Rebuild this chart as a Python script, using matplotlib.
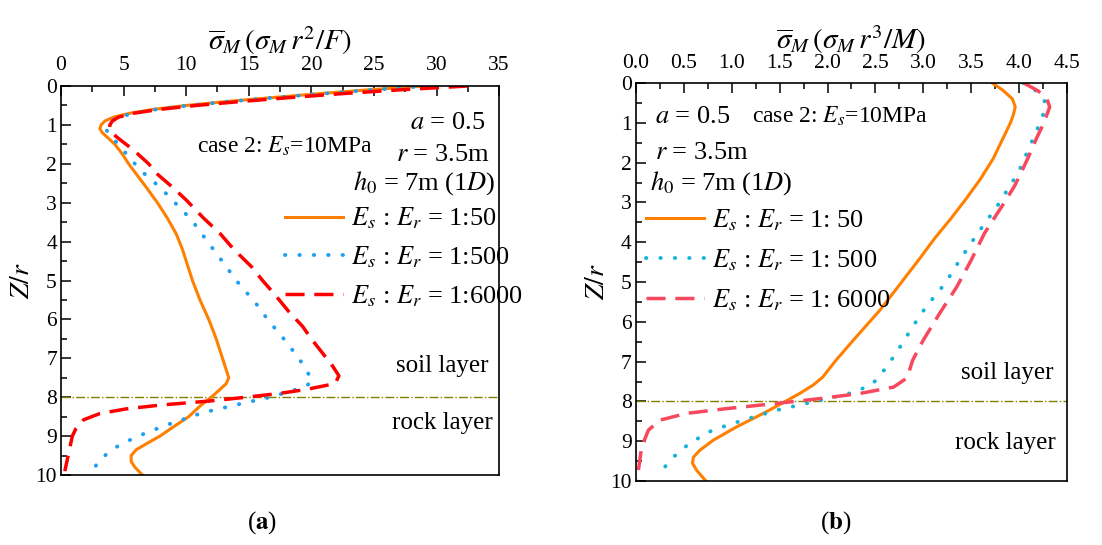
import matplotlib
matplotlib.use("Agg")
import matplotlib.pyplot as plt
from matplotlib.ticker import MultipleLocator

plt.rcParams['font.family'] = ['Liberation Serif', 'DejaVu Serif']
plt.rcParams['mathtext.fontset'] = 'stix'

# ---- panel (a): sigma_M r^2 / F ----
z_a_50 = [0.0, 0.1, 0.2, 0.3, 0.4, 0.5, 0.6, 0.7, 0.8, 0.9, 1.0, 1.1, 1.2, 1.35, 1.5,
          1.75, 2.0, 2.3, 2.6, 3.0, 3.4, 3.8, 4.2, 4.6, 5.0, 5.5, 6.0, 6.5, 7.0, 7.3,
          7.5, 7.65, 7.8, 8.0, 8.2, 8.5, 8.8, 9.0, 9.2, 9.35, 9.5, 9.65, 9.8, 10.0]
s_a_50 = [28.9, 24.5, 20.5, 16.8, 13.2, 10.0, 7.4, 5.5, 4.2, 3.5, 3.2, 3.1, 3.3, 3.8, 4.3,
          4.9, 5.4, 6.1, 6.8, 7.7, 8.5, 9.2, 9.7, 10.1, 10.5, 11.1, 11.8, 12.4, 12.9, 13.2,
          13.4, 13.2, 12.7, 12.0, 11.2, 10.2, 8.8, 7.9, 6.8, 6.0, 5.6, 5.6, 5.9, 6.5]

z_a_500 = [0.0, 0.1, 0.2, 0.3, 0.4, 0.5, 0.6, 0.7, 0.8, 0.9, 1.0, 1.1, 1.25, 1.5, 1.9,
           2.3, 2.6, 3.0, 3.3, 3.6, 4.0, 4.6, 5.0, 5.6, 6.0, 6.5, 7.0, 7.3, 7.6, 7.7,
           7.8, 8.0, 8.15, 8.4, 8.65, 8.9, 9.1, 9.3, 9.5, 9.65, 9.8]
s_a_500 = [29.3, 24.8, 20.8, 17.0, 13.4, 10.2, 7.6, 5.8, 4.6, 4.0, 3.7, 3.6, 3.8, 4.6, 5.6,
           6.8, 7.9, 9.1, 10.0, 10.8, 11.7, 13.1, 14.0, 15.6, 16.5, 17.8, 19.0, 19.6, 20.1, 19.6,
           18.8, 16.7, 14.6, 11.3, 9.0, 6.9, 5.5, 4.3, 3.5, 3.0, 2.7]

z_a_6000 = [0.0, 0.1, 0.2, 0.3, 0.4, 0.5, 0.6, 0.7, 0.8, 0.9, 1.0, 1.13, 1.3, 1.65, 2.0,
            2.24, 2.6, 2.93, 3.4, 3.79, 4.2, 4.64, 5.0, 5.33, 5.8, 6.18, 6.5, 6.87, 7.2, 7.45,
            7.65, 7.8, 7.9, 8.0, 8.1, 8.2, 8.3, 8.42, 8.58, 8.8, 9.0, 9.3, 9.6, 9.9]
s_a_6000 = [32.5, 27.0, 22.3, 18.2, 14.3, 10.8, 7.9, 5.8, 4.6, 4.1, 3.9, 3.9, 4.4, 5.8, 7.0,
            7.6, 8.9, 10.0, 11.4, 12.7, 13.8, 15.2, 16.1, 17.0, 18.2, 19.3, 20.0, 20.9, 21.7, 22.2,
            21.9, 19.6, 17.5, 14.8, 11.8, 8.0, 5.2, 3.1, 1.8, 1.2, 0.9, 0.7, 0.5, 0.3]

# ---- panel (b): sigma_M r^3 / M ----
z_b_50 = [0.0, 0.18, 0.4, 0.6, 0.8, 1.0, 1.4, 1.9, 2.4, 2.9, 3.4, 3.9, 4.45, 4.95, 5.7,
          6.46, 6.96, 7.39, 7.59, 7.8, 8.0, 8.3, 8.64, 8.97, 9.22, 9.4, 9.55, 9.72, 10.0]
s_b_50 = [3.72, 3.83, 3.93, 3.96, 3.94, 3.91, 3.83, 3.73, 3.60, 3.45, 3.29, 3.12, 2.95, 2.79, 2.55,
          2.27, 2.09, 1.95, 1.85, 1.71, 1.56, 1.33, 1.05, 0.81, 0.67, 0.60, 0.59, 0.63, 0.73]

z_b_500 = [0.0, 0.2, 0.4, 0.6, 0.8, 1.0, 1.43, 1.93, 2.26, 2.6, 3.1, 3.77, 4.45, 5.03, 5.62,
           6.12, 6.62, 7.13, 7.59, 7.8, 8.01, 8.22, 8.47, 8.72, 9.05, 9.4, 9.65, 9.9]
s_b_500 = [4.04, 4.18, 4.26, 4.28, 4.25, 4.22, 4.14, 4.05, 3.99, 3.90, 3.77, 3.57, 3.38, 3.23, 3.03,
           2.89, 2.76, 2.62, 2.46, 2.23, 1.85, 1.47, 1.12, 0.80, 0.56, 0.39, 0.30, 0.23]

z_b_6000 = [0.0, 0.2, 0.4, 0.6, 0.8, 1.0, 1.4, 1.9, 2.26, 2.6, 3.1, 3.77, 4.45, 5.12, 5.79,
            6.46, 6.96, 7.41, 7.64, 7.8, 7.93, 8.06, 8.18, 8.3, 8.47, 8.72, 9.14, 9.65, 10.0]
s_b_6000 = [4.05, 4.20, 4.29, 4.32, 4.29, 4.26, 4.18, 4.09, 4.02, 3.95, 3.82, 3.64, 3.50, 3.35, 3.17,
            3.00, 2.89, 2.83, 2.69, 2.34, 1.92, 1.43, 0.95, 0.53, 0.25, 0.13, 0.06, 0.03, 0.01]

ratios_a = ['1:50', '1:500', '1:6000']
ratios_b = ['1: 50', '1: 500', '1: 6000']
layer_z = 8

fig = plt.figure(figsize=(11.02, 5.45), dpi=100)
ax1 = fig.add_axes([0.0554, 0.1284, 0.3975, 0.7138])
ax2 = fig.add_axes([0.5771, 0.1174, 0.3911, 0.7303])


def style_axes(ax, xmax, xmajor, xlabel, fmt, xpad):
    ax.set_xlim(0, xmax)
    ax.set_ylim(10, 0)
    ax.xaxis.set_major_locator(MultipleLocator(xmajor))
    ax.xaxis.set_minor_locator(MultipleLocator(xmajor / 2))
    ax.yaxis.set_major_locator(MultipleLocator(1))
    ax.yaxis.set_minor_locator(MultipleLocator(0.5))
    ax.xaxis.set_major_formatter(plt.FuncFormatter(lambda v, p: fmt.format(v)))
    ax.tick_params(which='both', direction='in', top=True, bottom=False,
                   labeltop=True, labelbottom=False, right=False, width=1.1)
    ax.tick_params(which='major', length=7, labelsize=15.5)
    ax.tick_params(axis='x', which='major', pad=xpad)
    ax.tick_params(axis='y', which='major', pad=3)
    ax.tick_params(which='minor', length=4)
    ax.xaxis.set_label_position('top')
    ax.set_xlabel(xlabel, fontsize=21, labelpad=4)
    ax.set_ylabel(r'$Z/r$', fontsize=20, labelpad=0)
    for sp in ax.spines.values():
        sp.set_linewidth(1.2)
    ax.axhline(layer_z, color='#808000', lw=1.0, ls='-.')


style_axes(ax1, 35, 5, r'$\overline{\sigma}_M\,(\sigma_M\, r^2/F)$', '{:.0f}', 8)
style_axes(ax2, 4.5, 0.5, r'$\overline{\sigma}_M\,(\sigma_M\, r^3/M)$', '{:.1f}', 7)

dot = (0, (0.1, 3.6))
dash = (0, (5.5, 2.8))

ax1.plot(s_a_50, z_a_50, color='#FF8000', lw=2.2, label=r'$E_s$ : $E_r$ = ' + ratios_a[0])
ax1.plot(s_a_500, z_a_500, color='#1E9FF2', lw=2.8, ls=dot, dash_capstyle='round',
         label=r'$E_s$ : $E_r$ = ' + ratios_a[1])
ax1.plot(s_a_6000, z_a_6000, color='#FF0000', lw=2.5, ls=dash,
         label=r'$E_s$ : $E_r$ = ' + ratios_a[2])

ax2.plot(s_b_50, z_b_50, color='#FF8000', lw=2.2, label=r'$E_s$ : $E_r$ = ' + ratios_b[0])
ax2.plot(s_b_500, z_b_500, color='#14B4D8', lw=2.8, ls=dot, dash_capstyle='round',
         label=r'$E_s$ : $E_r$ = ' + ratios_b[1])
ax2.plot(s_b_6000, z_b_6000, color='#F8485E', lw=2.5, ls=dash,
         label=r'$E_s$ : $E_r$ = ' + ratios_b[2])

for ax, anchor, spacing in ((ax1, (0.511, 0.692), 0.5), (ax2, (0.023, 0.688), 0.55)):
    ax.legend(loc='upper left', bbox_to_anchor=anchor, frameon=False, fontsize=19,
              handlelength=2.2, handletextpad=0.3, labelspacing=spacing,
              borderaxespad=0, borderpad=0)

# annotations, panel (a)
ax1.text(0.968, 0.905, r'$a$ = 0.5', transform=ax1.transAxes, ha='right', va='center', fontsize=19)
ax1.text(0.977, 0.823, r'$r$ = 3.5m', transform=ax1.transAxes, ha='right', va='center', fontsize=19)
ax1.text(0.993, 0.751, r'$h_0$ = 7m (1$D$)', transform=ax1.transAxes, ha='right', va='center', fontsize=19)
ax1.text(0.311, 0.846, r'case 2: $E_s$=10MPa', transform=ax1.transAxes, ha='left', va='center', fontsize=17)
ax1.text(0.87, 0.28, 'soil layer', transform=ax1.transAxes, ha='center', va='center', fontsize=18)
ax1.text(0.87, 0.134, 'rock layer', transform=ax1.transAxes, ha='center', va='center', fontsize=18)

# annotations, panel (b)
ax2.text(0.044, 0.915, r'$a$ = 0.5', transform=ax2.transAxes, ha='left', va='center', fontsize=19)
ax2.text(0.269, 0.915, r'case 2: $E_s$=10MPa', transform=ax2.transAxes, ha='left', va='center', fontsize=17)
ax2.text(0.044, 0.824, r'$r$ = 3.5m', transform=ax2.transAxes, ha='left', va='center', fontsize=19)
ax2.text(0.032, 0.749, r'$h_0$ = 7m (1$D$)', transform=ax2.transAxes, ha='left', va='center', fontsize=19)
ax2.text(0.861, 0.271, 'soil layer', transform=ax2.transAxes, ha='center', va='center', fontsize=18)
ax2.text(0.858, 0.095, 'rock layer', transform=ax2.transAxes, ha='center', va='center', fontsize=18)

fig.text(0.238, 0.042, r'($\mathbf{a}$)', ha='center', va='center', fontsize=18)
fig.text(0.758, 0.042, r'($\mathbf{b}$)', ha='center', va='center', fontsize=18)

fig.savefig('out.png', dpi=100)
